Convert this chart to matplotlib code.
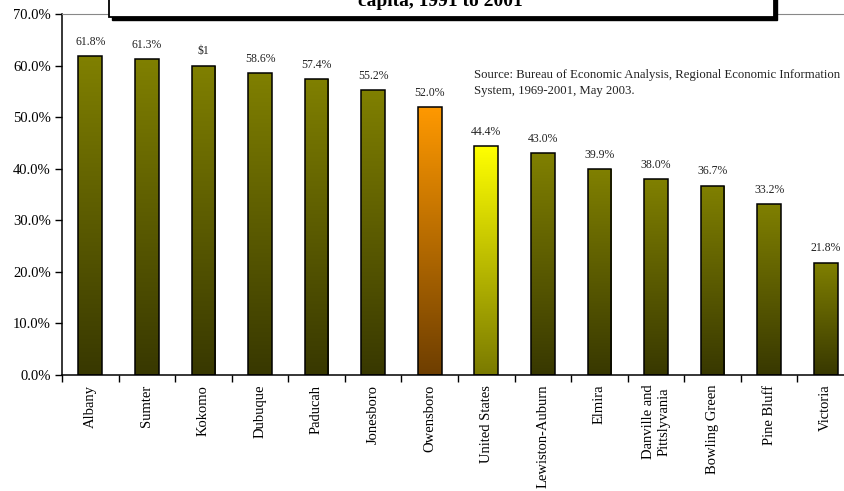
import numpy as np
import matplotlib.pyplot as plt
from matplotlib.colors import LinearSegmentedColormap
from matplotlib.ticker import FixedLocator, FuncFormatter

plt.rcParams['font.family'] = ['Liberation Serif', 'DejaVu Serif']

cities = ['Albany', 'Sumter', 'Kokomo', 'Dubuque', 'Paducah', 'Jonesboro',
          'Owensboro', 'United States', 'Lewiston-Auburn', 'Elmira',
          'Danville and\nPittslyvania', 'Bowling Green', 'Pine Bluff', 'Victoria']
growth = [61.8, 61.3, 60.0, 58.6, 57.4, 55.2, 52.0, 44.4, 43.0, 39.9, 38.0, 36.7, 33.2, 21.8]
labels = ['61.8%', '61.3%', '$1', '58.6%', '57.4%', '55.2%', '52.0%', '44.4%',
          '43.0%', '39.9%', '38.0%', '36.7%', '33.2%', '21.8%']

# top colour -> bottom colour of each bar
olive = ('#808000', '#383800')
special = {'Owensboro': ('#ff9900', '#6e3e00'),
           'United States': ('#ffff00', '#7a7a00')}

fig = plt.figure(figsize=(8.44, 4.91), dpi=100)
ax = fig.add_axes([62 / 844, 1 - 375 / 491, 792 / 844, 361 / 491])

x = np.arange(len(cities))
w = 0.42
bars = ax.bar(x, growth, width=w, color='none', edgecolor='black', linewidth=1.1, zorder=3)

grad = np.linspace(1, 0, 256).reshape(-1, 1)
for b, city in zip(bars, cities):
    top, bottom = special.get(city, olive)
    cmap = LinearSegmentedColormap.from_list('g', [bottom, top])
    x0 = b.get_x()
    h = b.get_height()
    im = ax.imshow(grad, cmap=cmap, aspect='auto', extent=[x0, x0 + w, 0, h],
                   origin='upper', zorder=2, vmin=0, vmax=1)
    im.set_clip_path(b)

for xi, v, t in zip(x, growth, labels):
    ax.text(xi, v + 1.6, t, ha='center', va='bottom', fontsize=8.5, color='#222222')

ax.set_xlim(-0.5, len(cities) - 0.5)
ax.set_ylim(0, 70)
ax.set_yticks(np.arange(0, 71, 10))
ax.yaxis.set_major_formatter(FuncFormatter(lambda v, p: f'{v:.1f}%'))
ax.tick_params(axis='y', labelsize=10.5, length=5, direction='out', width=1, pad=3)

ax.set_xticks(x)
ax.set_xticklabels(cities, rotation=90, fontsize=10.5, va='top', ha='center', linespacing=1.25)
ax.tick_params(axis='x', which='major', length=0, pad=7)
ax.xaxis.set_minor_locator(FixedLocator(np.arange(-0.5, len(cities), 1)))
ax.tick_params(axis='x', which='minor', length=5, width=1)

for s in ['left', 'bottom']:
    ax.spines[s].set_color('black')
    ax.spines[s].set_linewidth(1.1)
ax.spines['top'].set_color('#888888')
ax.spines['right'].set_visible(False)

fig.text(474 / 844, 1 - 83 / 491, 'Source: Bureau of Economic Analysis, Regional Economic Information\n'
         'System, 1969-2001, May 2003.', fontsize=9.2, ha='left', va='center',
         linespacing=1.45, color='#222222')

# title box, mostly cut off at the top of the picture
box = plt.Rectangle((109 / 844, 1 - 17 / 491), 665 / 844, 0.2, transform=fig.transFigure,
                    facecolor='white', edgecolor='black', linewidth=1.3, zorder=10)
shadow = plt.Rectangle((112 / 844, 1 - 20 / 491), 665 / 844, 0.2, transform=fig.transFigure,
                       facecolor='black', edgecolor='black', zorder=9)
fig.patches.extend([shadow, box])
fig.text(440 / 844, 1 - 2 / 491, 'capita, 1991 to 2001', fontsize=14, fontweight='bold',
         ha='center', va='center', zorder=11)

fig.savefig('out.png', dpi=100)
